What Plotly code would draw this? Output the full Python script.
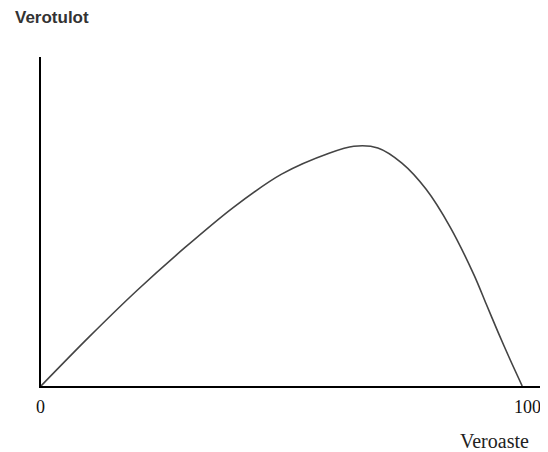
import plotly.graph_objects as go

# Laffer curve: tax rate (Veroaste) vs tax revenue (Verotulot)
tax_rate = [0, 10, 20, 30, 40, 50, 60, 65, 70, 75, 80, 85, 90, 92.5, 95, 97.5, 100]
revenue = [0, 20.4, 39.8, 57.7, 74.3, 88.1, 96.9, 99.7, 99.0, 92.7, 81.9, 66.2, 46.1, 34.2, 22.3, 10.9, 0]
x_tick_labels = ["0", "100"]
x_tick_vals = [0, 100]
y_title = "Verotulot"
x_title = "Veroaste"

fig = go.Figure()
fig.add_trace(go.Scatter(
    x=tax_rate, y=revenue, mode="lines",
    line=dict(color="#444444", width=1.6, shape="spline", smoothing=0.9),
    hoverinfo="skip", showlegend=False,
))

# The page body has an 8px default margin, so the figure is 8px smaller
fig.update_layout(
    width=540, height=444,
    margin=dict(l=33, r=8, t=49, b=66),
    paper_bgcolor="white", plot_bgcolor="white",
    xaxis=dict(range=[0, 103.7], showgrid=False, zeroline=False,
               showline=True, linecolor="black", linewidth=2,
               showticklabels=False, ticks=""),
    yaxis=dict(range=[0, 136.8], showgrid=False, zeroline=False,
               showline=True, linecolor="black", linewidth=2,
               showticklabels=False, ticks=""),
)

serif = "Liberation Serif, Times New Roman, serif"
shifts = [-1, 5.5]
for v, lab, sh in zip(x_tick_vals, x_tick_labels, shifts):
    fig.add_annotation(x=v, y=-0.063, xref="x", yref="paper", text=lab, showarrow=False,
                       xanchor="center", yanchor="middle", xshift=sh,
                       font=dict(family=serif, size=18, color="#111111"))

fig.add_annotation(x=-0.0555, y=1.120, xref="paper", yref="paper", text="<b>" + y_title + "</b>",
                   showarrow=False, xanchor="left", yanchor="middle",
                   font=dict(family="Liberation Sans, Arial, sans-serif", size=17, color="#333333"))
fig.add_annotation(x=0.9098, y=-0.1657, xref="paper", yref="paper", text=x_title, showarrow=False,
                   xanchor="center", yanchor="middle",
                   font=dict(family=serif, size=20, color="#222222"))

fig.write_html("out.html")
